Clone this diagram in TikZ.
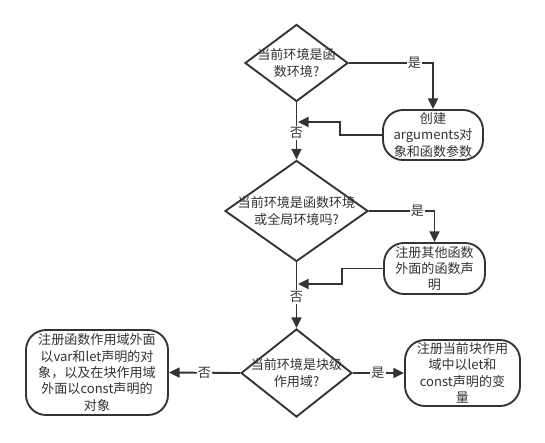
\documentclass[tikz,border=0pt]{standalone}
\usepackage{fontspec}
\setmainfont{Noto Sans CJK SC}
\usetikzlibrary{positioning, shapes.geometric, arrows.meta}

\begin{document}
\begin{tikzpicture}
[
    x=0.75pt, y=-0.75pt, line width=1.4pt, color=black!80,
    % Decisions are named D-1 ... D-3, actions are named B-1 ... B-4
    % All positions are given in pixels of the sketch
    font=\fontsize{9.8}{12.3}\selectfont
]

%=================================== Start ===================================
\tikzstyle{dec} = [diamond, draw, fill=white, inner sep=0pt, aspect=1]
\tikzstyle{act} = [rectangle, draw, fill=white, rounded corners=15pt, align=center, inner sep=0pt]
\tikzstyle{lab} = [fill=white, inner sep=1pt]
\tikzstyle{arr} = [-{Triangle[length=8pt, width=7.5pt]}]

\useasboundingbox (0,0) rectangle (545,442);

{
    % Draw decisions
    \foreach \name / \x / \y / \w / \h / \txt in {
            D-1/296.5/63/103/77/{当前环境是函\\数环境?},
            D-2/296.5/211/143/101/{当前环境是函数环境\\或全局环境吗?},
            D-3/296.5/373/111/88/{当前环境是块级\\作用域?}}
        \node[dec, minimum width=\w*0.75pt, minimum height=\h*0.75pt,
              label={[align=center]center:\txt}] (\name) at (\x,\y) {};

    % Draw actions
    \foreach \name / \x / \y / \w / \h / \txt in {
            B-1/433/135/100/50/{创建\\arguments对\\象和函数参数},
            B-2/434.5/268.5/101/51/{注册其他函数\\外面的函数声\\明},
            B-3/97/372.5/142/85/{注册函数作用域外面\\以var和let声明的对\\象，以及在块作用域\\外面以const声明的\\对象},
            B-4/462.5/373/115/66/{注册当前块作用\\域中以let和\\const声明的变\\量}}
        \node[act, minimum width=\w*0.75pt, minimum height=\h*0.75pt]
              (\name) at (\x,\y) {\txt};

    % join points on the main line
    \coordinate (J-1) at (298,122);
    \coordinate (J-2) at (298,284);

    % Connect nodes
    \draw[arr] (D-1.east) -| node[lab, pos=0.39] {是} (B-1.north);
    \draw[arr] (B-1.west) -- ++(-42,0) |- (J-1);
    \draw[arr] (D-1.south) -- node[lab, pos=0.53] {否} (D-2.north);

    \draw[arr] (D-2.east) -| node[lab, pos=0.37] {是} (B-2.north);
    \draw[arr] (B-2.west) -- ++(-41,0) |- (J-2);
    \draw[arr] (D-2.south) -- node[lab, pos=0.53] {否} (D-3.north);

    \draw[arr] (D-3.west) -- node[lab, pos=0.5] {否} (B-3.east);
    \draw[arr] (D-3.east) -- node[lab, pos=0.49] {是} (B-4.west);
}
%==================================== END ====================================

\end{tikzpicture}
\end{document}
